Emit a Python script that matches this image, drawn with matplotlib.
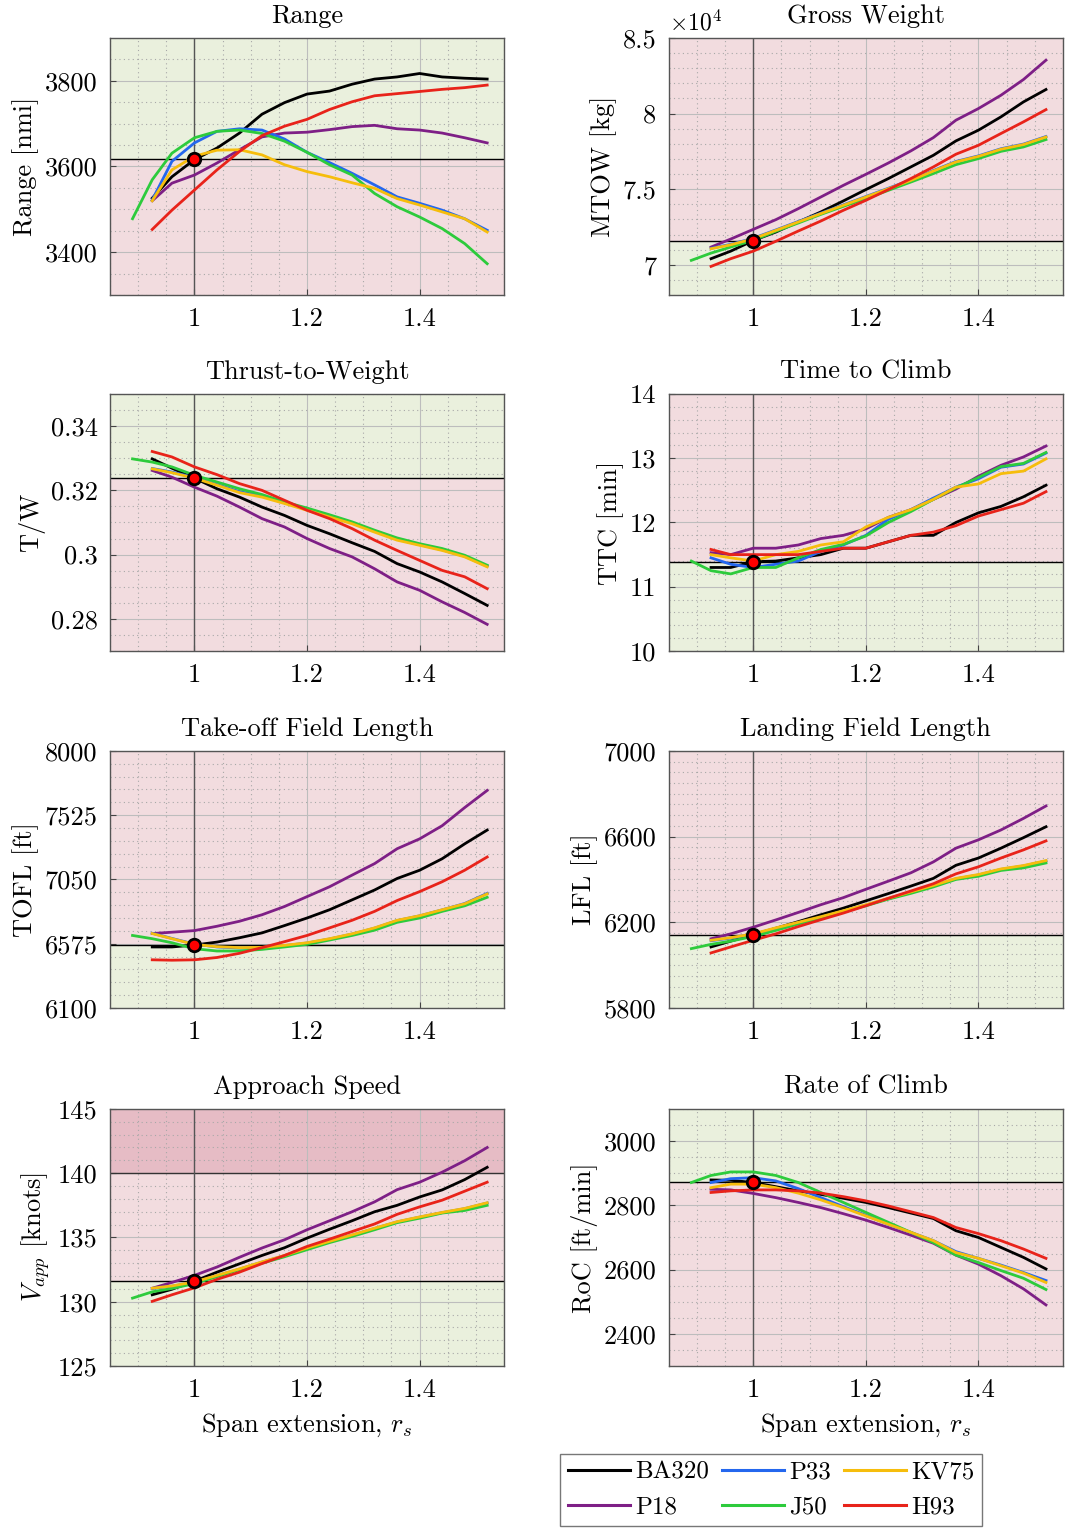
import numpy as np
import matplotlib
matplotlib.use("Agg")
from matplotlib import pyplot as plt
from matplotlib.ticker import MultipleLocator, FuncFormatter
from matplotlib.lines import Line2D

plt.rcParams['font.family'] = 'cmr10'
plt.rcParams['mathtext.fontset'] = 'cm'
plt.rcParams['axes.unicode_minus'] = False
plt.rcParams['font.size'] = 19

# span extension values
x_base = [0.925, 0.96, 1.0, 1.04, 1.08, 1.12, 1.16, 1.20, 1.24, 1.28, 1.32, 1.36, 1.40, 1.44, 1.48, 1.52]
x_j50 = [0.89] + x_base

names = ['BA320', 'P18', 'P33', 'J50', 'KV75', 'H93']
colors = ['#000000', '#7E1F86', '#2467EE', '#2DCB3C', '#F6BD0C', '#E8231A']

# Range [nmi]
range_ba320 = [3526, 3576, 3616, 3643, 3678, 3722, 3749, 3769, 3776, 3792, 3804, 3809, 3817, 3809, 3806, 3804]
range_p18 = [3520, 3561, 3580, 3608, 3639, 3669, 3678, 3680, 3686, 3693, 3696, 3688, 3685, 3678, 3667, 3655]
range_p33 = [3522, 3612, 3655, 3682, 3688, 3685, 3664, 3633, 3609, 3584, 3557, 3529, 3514, 3498, 3478, 3451]
range_j50 = [3478, 3569, 3631, 3667, 3682, 3685, 3677, 3659, 3633, 3604, 3580, 3537, 3506, 3482, 3455, 3420, 3373]
range_kv75 = [3520, 3592, 3624, 3638, 3639, 3627, 3604, 3588, 3576, 3562, 3549, 3525, 3510, 3494, 3478, 3447]
range_h93 = [3453, 3498, 3545, 3592, 3635, 3672, 3694, 3710, 3733, 3751, 3765, 3770, 3775, 3780, 3784, 3790]

# MTOW [kg]
mtow_ba320 = [70400, 70900, 71600, 72160, 72830, 73490, 74220, 74970, 75700, 76470, 77240, 78190, 78900, 79780, 80770, 81590]
mtow_p18 = [71170, 71700, 72340, 72980, 73710, 74480, 75250, 75980, 76730, 77530, 78410, 79560, 80330, 81210, 82250, 83530]
mtow_p33 = [71090, 71350, 71750, 72300, 72860, 73410, 73960, 74510, 75060, 75610, 76230, 76830, 77200, 77670, 77980, 78480]
mtow_j50 = [70290, 70770, 71170, 71610, 72210, 72760, 73330, 73860, 74370, 74920, 75470, 76030, 76620, 77020, 77500, 77790, 78280]
mtow_kv75 = [71060, 71320, 71720, 72270, 72830, 73380, 73930, 74480, 75030, 75580, 76200, 76800, 77170, 77640, 77950, 78450]
mtow_h93 = [69890, 70400, 70900, 71550, 72230, 72890, 73600, 74260, 74970, 75700, 76470, 77310, 77900, 78680, 79450, 80260]

# Thrust-to-weight
tw_ba320 = [0.3298, 0.3269, 0.3238, 0.3205, 0.3179, 0.3148, 0.3122, 0.3091, 0.3065, 0.3037, 0.3010, 0.2972, 0.2946, 0.2915, 0.2879, 0.2842]
tw_p18 = [0.3262, 0.3241, 0.3210, 0.3182, 0.3148, 0.3112, 0.3086, 0.3050, 0.3019, 0.2993, 0.2956, 0.2915, 0.2889, 0.2853, 0.2820, 0.2783]
tw_p33 = [0.3268, 0.3257, 0.3240, 0.3218, 0.3196, 0.3182, 0.3162, 0.3141, 0.3120, 0.3099, 0.3073, 0.3048, 0.3031, 0.3015, 0.2995, 0.2964]
tw_j50 = [0.3298, 0.3288, 0.3273, 0.3247, 0.3226, 0.3205, 0.3187, 0.3164, 0.3145, 0.3124, 0.3102, 0.3076, 0.3052, 0.3034, 0.3019, 0.2998, 0.2967]
tw_kv75 = [0.3267, 0.3255, 0.3238, 0.3216, 0.3193, 0.3179, 0.3159, 0.3138, 0.3117, 0.3096, 0.3070, 0.3045, 0.3029, 0.3013, 0.2993, 0.2962]
tw_h93 = [0.3321, 0.3304, 0.3273, 0.3249, 0.3221, 0.3200, 0.3169, 0.3138, 0.3112, 0.3081, 0.3045, 0.3013, 0.2982, 0.2951, 0.2931, 0.2894]

# Time to climb [min]
ttc_ba320 = [11.30, 11.30, 11.39, 11.40, 11.45, 11.50, 11.60, 11.60, 11.70, 11.80, 11.80, 12.00, 12.15, 12.25, 12.40, 12.58]
ttc_p18 = [11.53, 11.50, 11.60, 11.60, 11.65, 11.75, 11.80, 11.90, 12.08, 12.20, 12.36, 12.52, 12.72, 12.89, 13.02, 13.19]
ttc_p33 = [11.45, 11.35, 11.30, 11.35, 11.40, 11.55, 11.65, 11.80, 12.05, 12.20, 12.38, 12.55, 12.68, 12.86, 12.91, 13.08]
ttc_j50 = [11.40, 11.25, 11.20, 11.30, 11.30, 11.45, 11.58, 11.66, 11.79, 12.00, 12.17, 12.36, 12.54, 12.70, 12.87, 12.92, 13.09]
ttc_kv75 = [11.50, 11.45, 11.40, 11.50, 11.55, 11.65, 11.70, 11.93, 12.08, 12.20, 12.36, 12.55, 12.60, 12.76, 12.80, 12.99]
ttc_h93 = [11.58, 11.50, 11.50, 11.50, 11.50, 11.55, 11.60, 11.60, 11.70, 11.80, 11.85, 11.95, 12.10, 12.20, 12.30, 12.48]

# Take-off field length [ft]
tofl_ba320 = [6551, 6551, 6565, 6587, 6619, 6655, 6709, 6765, 6826, 6899, 6972, 7057, 7118, 7203, 7313, 7415]
tofl_p18 = [6650, 6660, 6672, 6704, 6741, 6789, 6850, 6923, 6996, 7082, 7167, 7277, 7350, 7447, 7581, 7708]
tofl_p33 = [6652, 6614, 6572, 6551, 6543, 6546, 6561, 6580, 6610, 6646, 6690, 6746, 6781, 6825, 6872, 6947]
tofl_j50 = [6636, 6612, 6582, 6538, 6521, 6521, 6533, 6551, 6570, 6602, 6636, 6675, 6733, 6765, 6814, 6855, 6918]
tofl_kv75 = [6650, 6612, 6570, 6553, 6546, 6548, 6563, 6582, 6612, 6648, 6692, 6748, 6782, 6826, 6870, 6943]
tofl_h93 = [6456, 6453, 6456, 6473, 6504, 6546, 6590, 6636, 6692, 6748, 6814, 6894, 6960, 7033, 7118, 7216]

# Landing field length [ft]
lfl_ba320 = [6085, 6112, 6142, 6172, 6203, 6235, 6266, 6300, 6334, 6369, 6405, 6466, 6500, 6546, 6595, 6646]
lfl_p18 = [6123, 6146, 6177, 6211, 6246, 6282, 6315, 6354, 6392, 6431, 6482, 6546, 6585, 6631, 6685, 6743]
lfl_p33 = [6114, 6126, 6144, 6172, 6198, 6224, 6252, 6280, 6310, 6340, 6370, 6403, 6421, 6447, 6463, 6486]
lfl_j50 = [6077, 6097, 6112, 6134, 6162, 6192, 6220, 6251, 6277, 6308, 6335, 6365, 6400, 6415, 6442, 6454, 6477]
lfl_kv75 = [6116, 6128, 6146, 6174, 6200, 6226, 6254, 6282, 6312, 6342, 6372, 6405, 6423, 6449, 6465, 6488]
lfl_h93 = [6057, 6085, 6116, 6146, 6180, 6212, 6243, 6277, 6312, 6346, 6380, 6426, 6459, 6500, 6538, 6580]

# Approach speed [knots]
vapp_ba320 = [130.54, 130.97, 131.60, 132.30, 132.95, 133.60, 134.20, 134.95, 135.64, 136.30, 137.00, 137.50, 138.15, 138.70, 139.50, 140.46]
vapp_p18 = [131.05, 131.50, 132.05, 132.70, 133.46, 134.18, 134.82, 135.60, 136.30, 137.00, 137.77, 138.72, 139.30, 140.08, 140.97, 142.00]
vapp_p33 = [131.03, 131.21, 131.52, 132.03, 132.54, 133.08, 133.58, 134.16, 134.68, 135.18, 135.70, 136.21, 136.58, 136.93, 137.24, 137.68]
vapp_j50 = [130.28, 130.77, 131.03, 131.41, 131.95, 132.50, 133.00, 133.50, 134.05, 134.60, 135.08, 135.60, 136.15, 136.50, 136.90, 137.10, 137.50]
vapp_kv75 = [131.05, 131.23, 131.54, 132.05, 132.56, 133.10, 133.60, 134.18, 134.70, 135.20, 135.72, 136.23, 136.60, 136.95, 137.26, 137.70]
vapp_h93 = [130.03, 130.54, 131.08, 131.74, 132.30, 132.97, 133.60, 134.30, 134.87, 135.46, 136.05, 136.80, 137.38, 137.90, 138.60, 139.30]

# Rate of climb [ft/min]
roc_ba320 = [2879, 2878, 2871, 2858, 2845, 2834, 2822, 2809, 2793, 2776, 2759, 2721, 2700, 2669, 2638, 2602]
roc_p18 = [2850, 2848, 2837, 2824, 2809, 2793, 2774, 2754, 2731, 2707, 2682, 2645, 2617, 2581, 2540, 2490]
roc_p33 = [2871, 2883, 2886, 2876, 2852, 2824, 2796, 2769, 2741, 2716, 2690, 2656, 2635, 2614, 2591, 2566]
roc_j50 = [2871, 2893, 2904, 2904, 2893, 2871, 2840, 2809, 2778, 2747, 2716, 2684, 2645, 2622, 2597, 2573, 2538]
roc_kv75 = [2855, 2866, 2866, 2855, 2838, 2817, 2793, 2767, 2741, 2716, 2690, 2653, 2635, 2612, 2589, 2560]
roc_h93 = [2840, 2845, 2848, 2848, 2845, 2838, 2827, 2814, 2798, 2780, 2762, 2731, 2712, 2690, 2664, 2635]

# baseline (BA320 at r_s = 1) values
ref_values = [3617, 71600, 0.3238, 11.39, 6565, 6142, 131.6, 2873]

titles = ['Range', 'Gross Weight', 'Thrust-to-Weight', 'Time to Climb',
          'Take-off Field Length', 'Landing Field Length', 'Approach Speed', 'Rate of Climb']
ylabels = ['Range [nmi]', 'MTOW [kg]', 'T/W', 'TTC [min]', 'TOFL [ft]', 'LFL [ft]',
           r'$V_{app}$ [knots]', 'RoC [ft/min]']

panel_data = [
    [range_ba320, range_p18, range_p33, range_j50, range_kv75, range_h93],
    [mtow_ba320, mtow_p18, mtow_p33, mtow_j50, mtow_kv75, mtow_h93],
    [tw_ba320, tw_p18, tw_p33, tw_j50, tw_kv75, tw_h93],
    [ttc_ba320, ttc_p18, ttc_p33, ttc_j50, ttc_kv75, ttc_h93],
    [tofl_ba320, tofl_p18, tofl_p33, tofl_j50, tofl_kv75, tofl_h93],
    [lfl_ba320, lfl_p18, lfl_p33, lfl_j50, lfl_kv75, lfl_h93],
    [vapp_ba320, vapp_p18, vapp_p33, vapp_j50, vapp_kv75, vapp_h93],
    [roc_ba320, roc_p18, roc_p33, roc_j50, roc_kv75, roc_h93],
]

ylims = [(3300, 3900), (68000, 85000), (0.27, 0.35), (10, 14),
         (6100, 8000), (5800, 7000), (125, 145), (2300, 3100)]
tick_starts = [3400, 70000, 0.28, 10, 6100, 5800, 125, 2400]
major_steps = [200, 5000, 0.02, 1, 475, 400, 5, 200]
minor_steps = [50, 1000, 0.005, 0.2, 95, 50, 1, 50]
higher_better = [True, False, True, False, False, False, False, True]

green_fill = '#EAF0DD'
red_fill = '#F2DCDF'
dark_red_fill = '#E6BCC5'

fig = plt.figure(figsize=(10.65, 15.3), dpi=100)
lefts = [0.1033, 0.628]
bottoms = [0.8072, 0.5745, 0.3412, 0.1072]
w, h = 0.370, 0.168

for i in range(8):
    ax = fig.add_axes([lefts[i % 2], bottoms[i // 2], w, h])
    y0, y1 = ylims[i]
    ref = ref_values[i]
    if higher_better[i]:
        ax.axhspan(ref, y1, color=green_fill, zorder=0, lw=0)
        ax.axhspan(y0, ref, color=red_fill, zorder=0, lw=0)
    else:
        ax.axhspan(ref, y1, color=red_fill, zorder=0, lw=0)
        ax.axhspan(y0, ref, color=green_fill, zorder=0, lw=0)
    if i == 6:
        ax.axhspan(140, y1, color=dark_red_fill, zorder=0, lw=0)
        ax.axhline(140, color='#333333', lw=1.0, zorder=1)

    ax.set_xlim(0.85, 1.55)
    ax.set_ylim(y0, y1)
    ax.xaxis.set_major_locator(MultipleLocator(0.2))
    ax.xaxis.set_minor_locator(MultipleLocator(0.05))
    ax.xaxis.set_major_formatter(FuncFormatter(lambda v, p: f'{v:g}'))
    eps = minor_steps[i] * 0.01
    ax.set_yticks(np.arange(tick_starts[i], y1 + eps, major_steps[i]))
    ax.set_yticks(np.arange(y0, y1 + eps, minor_steps[i]), minor=True)
    ax.set_ylim(y0, y1)
    if i == 1:
        ax.yaxis.set_major_formatter(FuncFormatter(lambda v, p: f'{v / 1e4:g}'))
        ax.text(0.0, 1.01, r'$\times10^4$', transform=ax.transAxes, ha='left', va='bottom', fontsize=17)
    else:
        ax.yaxis.set_major_formatter(FuncFormatter(lambda v, p: f'{round(v, 4):g}'))

    ax.grid(which='major', color='#BDBDBD', lw=0.8, ls='-', zorder=0.5)
    ax.grid(which='minor', color='#A8A8A8', lw=0.8, ls=(0, (1, 3)), zorder=0.5)
    ax.set_axisbelow(True)
    ax.tick_params(which='major', direction='in', length=4, width=0.8, color='#444444', pad=9)
    ax.tick_params(which='minor', length=0)
    for s in ax.spines.values():
        s.set_color('#555555')
        s.set_linewidth(1.0)

    ax.axvline(1.0, color='#555555', lw=1.0, zorder=1)
    ax.axhline(ref, color='#000000', lw=1.0, zorder=1)

    for k in range(6):
        xs = x_j50 if names[k] == 'J50' else x_base
        ax.plot(xs, panel_data[i][k], color=colors[k], lw=2.0, zorder=2 + k * 0.1, label=names[k])

    ax.plot([1.0], [ref], 'o', ms=9, mfc='#FF0000', mec='#000000', mew=2.0, zorder=5)

    ax.set_title(titles[i], fontsize=19, pad=11)
    ax.set_ylabel(ylabels[i], fontsize=19)
    if i >= 6:
        ax.set_xlabel(r'Span extension, $r_s$', fontsize=19, labelpad=7)

handles = [Line2D([], [], color=c, lw=2.2) for c in colors]
fig.legend(handles, names, loc='center', bbox_to_anchor=(0.724, 0.026), ncol=3,
           fontsize=18, frameon=True, fancybox=False, edgecolor='#555555',
           handlelength=2.5, handletextpad=0.2, columnspacing=0.5, labelspacing=0.5,
           borderpad=0.3)

fig.savefig('out.png', dpi=100)
